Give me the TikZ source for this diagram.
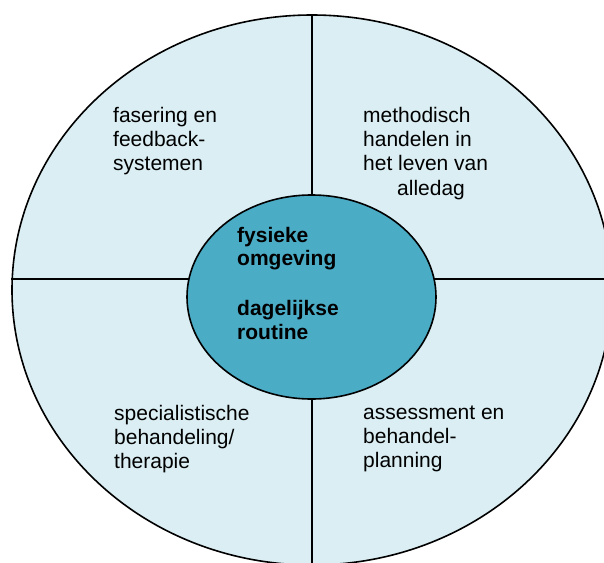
\documentclass[tikz,border=0pt]{standalone}
\usepackage{fontspec}
\setmainfont{Liberation Sans}
\usetikzlibrary{shapes}

\definecolor{ringblue}{HTML}{DAEEF3}
\definecolor{coreblue}{HTML}{4BACC6}

\begin{document}
\begin{tikzpicture}[x=1pt, y=-1pt]
\tikzstyle{ring}=[ellipse, draw=black, line width=1.6pt, fill=ringblue, inner sep=0pt, minimum width=600pt, minimum height=550pt]
\tikzstyle{core}=[ellipse, draw=black, line width=1.6pt, fill=coreblue, inner sep=0pt, minimum width=249pt, minimum height=204pt]
\tikzstyle{divider}=[line width=1.2pt]
\tikzstyle{quadtext}=[anchor=north west, align=left, inner sep=0pt, font=\fontsize{21}{24.2}\selectfont]
\tikzstyle{coretext}=[anchor=north west, align=left, inner sep=0pt, font=\fontsize{21}{23.5}\selectfont\bfseries]

\useasboundingbox (0,0) rectangle (604,562);
\clip (0,0) rectangle (604,562);

\node[ring] (R) at (312,290) {};
\coordinate (cutW) at (11,279);
\coordinate (cutE) at (612,279);
\draw[divider] (R.north) -- (R.south);
\draw[divider] (cutW) -- (cutE);
\node[core] (C) at (311.5,297) {};

\node[coretext] (Ctxt) at (237,226.7) {fysieke\\omgeving\\[26.5pt]dagelijkse\\routine};
\node[quadtext] (Qnw) at (113,106.7) {fasering en\\feedback-\\systemen};
\node[quadtext] (Qne) at (363,107) {methodisch\\handelen in\\het leven van\\\hspace*{34pt}alledag};
\node[quadtext] (Qsw) at (114,405) {specialistische\\behandeling/\\therapie};
\node[quadtext] (Qse) at (363,405.5) {assessment en\\behandel-\\planning};
\end{tikzpicture}
\end{document}
